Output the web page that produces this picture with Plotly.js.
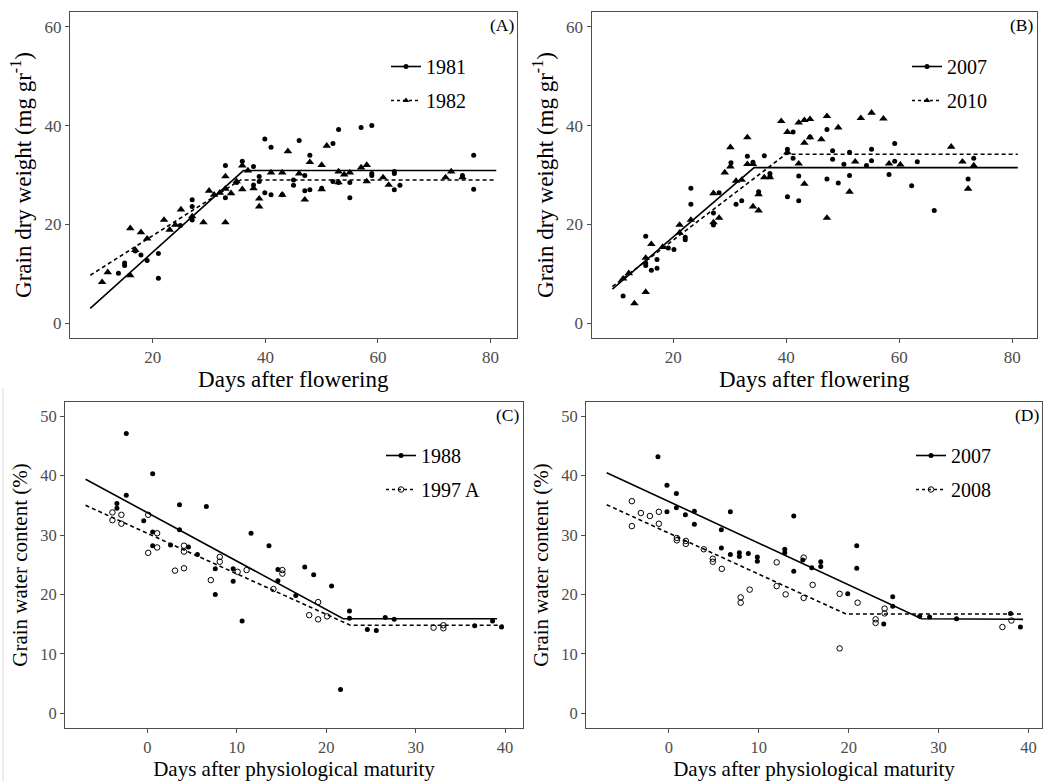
<!DOCTYPE html>
<html>
<head>
<meta charset="utf-8">
<script src="https://cdn.plot.ly/plotly-3.0.1.min.js"></script>
<style>html,body{margin:0;padding:0;background:#fff;}#chart{width:1045px;height:781px;}</style>
</head>
<body>
<div id="chart"></div>
<script>
// ---------------- Panel A: grain dry weight, 1981 / 1982 ----------------
const a1981X = [13.9,15.0,15.0,16.9,17.9,19.0,21.0,21.0,24.9,27.0,27.0,27.0,32.9,32.9,34.9,35.9,37.9,38.9,38.9,37.9,39.9,41.0,39.9,41.0,43.0,45.0,45.0,46.0,47.0,47.0,47.9,47.9,50.0,52.0,53.0,52.0,53.0,55.0,55.0,57.0,58.9,58.9,58.9,62.9,62.9,62.9,63.9,75.0,77.0,77.0];
const a1981Y = [10.1,12.2,11.7,14.6,13.8,12.7,14.1,9.1,19.8,25.0,23.6,20.9,31.9,25.4,28.5,32.8,31.7,29.7,28.7,28.0,37.3,35.6,26.4,26.0,26.0,29.0,27.9,37.0,26.8,29.9,34.0,27.0,27.3,36.4,39.2,28.7,28.5,28.5,25.4,39.6,40.0,30.3,29.9,30.7,30.3,27.0,27.9,29.9,34.0,27.1];
const a1982X = [11.0,12.0,16.0,16.0,16.9,17.9,19.0,22.0,23.0,24.0,25.0,27.0,29.0,30.0,30.9,31.9,32.9,32.9,32.9,33.9,34.9,35.9,35.9,36.9,37.9,38.9,38.9,41.0,43.0,43.0,44.0,46.0,47.0,47.9,50.0,50.0,50.9,53.0,53.0,54.0,55.0,57.0,58.0,58.0,60.9,61.9,72.0,73.0,75.0];
const a1982Y = [8.3,10.3,19.2,9.7,14.8,18.4,17.1,20.9,18.9,19.9,23.0,21.6,20.4,26.8,26.0,26.4,29.7,27.2,20.4,26.3,28.7,31.9,27.1,30.9,27.3,25.2,23.6,30.5,30.5,26.0,34.8,30.3,25.0,32.6,32.0,27.1,35.9,30.7,28.5,30.1,30.5,31.5,32.0,28.7,29.5,28.0,29.5,30.7,29.5];
const aFit1981X = [8.9, 36.1, 81.0];
const aFit1981Y = [3.0, 30.9, 30.9];
const aFit1982X = [8.9, 35.6, 81.0];
const aFit1982Y = [9.7, 29.0, 29.0];

// ---------------- Panel B: grain dry weight, 2007 / 2010 ----------------
const b2007X = [11.1,15.1,15.1,15.1,16.1,17.1,17.1,19.1,20.1,22.1,22.1,23.1,23.1,27.1,27.1,28.1,30.2,31.1,32.1,33.1,34.1,35.1,36.1,37.1,37.1,40.2,40.2,41.2,41.2,42.2,42.2,44.2,47.2,47.2,48.2,48.2,49.2,50.2,51.2,51.2,54.2,55.1,55.1,58.2,59.2,59.2,62.2,63.2,66.2,72.2,73.2];
const b2007Y = [5.5,17.6,12.2,11.7,10.7,11.1,12.9,15.2,14.9,17.4,16.9,27.3,24.1,22.3,19.9,26.4,32.5,24.1,24.8,33.8,32.6,26.6,33.9,30.3,29.7,35.2,25.6,38.7,33.4,29.8,24.8,37.7,39.2,29.2,34.9,33.2,28.4,32.2,34.6,29.9,31.9,35.2,32.9,30.1,36.4,32.8,27.8,32.7,22.8,29.2,33.4];
const b2010X = [11.1,12.1,13.1,15.1,15.1,16.1,18.1,21.1,21.1,23.1,27.1,27.1,28.1,29.1,30.1,30.1,31.1,32.1,33.1,33.1,34.1,34.1,35.1,35.1,36.1,37.1,39.1,40.2,40.2,42.2,42.2,43.2,43.2,43.2,44.2,44.2,46.2,47.2,47.2,49.2,51.2,52.2,53.2,55.1,57.2,58.2,60.2,69.2,71.2,72.2,73.2];
const b2010Y = [9.0,10.1,4.0,13.2,6.3,16.0,15.4,19.9,18.3,20.9,26.3,20.4,21.3,30.5,31.7,35.6,28.8,29.0,37.6,32.2,32.2,23.6,26.1,22.8,29.5,29.5,40.9,38.7,34.6,40.6,32.3,41.1,36.5,28.2,41.3,37.6,37.2,41.9,21.3,39.6,26.6,32.7,41.5,42.6,41.4,32.3,32.1,35.7,32.7,27.2,31.9];
const bFit2007X = [9.2, 34.3, 81.0];
const bFit2007Y = [6.9, 31.5, 31.5];
const bFit2010X = [9.2, 39.9, 81.0];
const bFit2010Y = [7.4, 34.2, 34.2];

// ---------------- Panel C: grain water content, 1988 / 1997 A ----------------
const c1988X = [-2.35,-3.4,-3.4,-2.35,-0.4,0.6,0.6,0.6,2.6,3.6,3.6,4.6,5.6,6.6,7.6,7.6,9.6,9.6,10.6,11.6,13.6,14.6,14.6,16.6,17.6,18.6,20.6,21.6,22.6,22.6,24.6,25.6,26.6,27.6,36.6,38.6,39.6];
const c1988Y = [47.1,35.3,34.5,36.7,32.4,40.3,30.5,28.2,28.3,35.1,30.9,28.0,26.7,34.8,24.3,20.0,24.3,22.2,15.5,30.3,28.2,24.2,22.3,19.8,24.6,23.3,21.4,4.0,17.2,16.0,14.1,13.9,16.1,15.8,14.7,15.5,14.5];
const c1997X = [-3.9,-3.9,-2.9,-2.9,0.1,0.1,1.1,1.1,3.1,4.1,4.1,4.1,7.1,8.1,8.1,10.1,11.1,14.1,15.1,15.1,18.1,19.1,19.1,20.1,32.0,33.1,33.1];
const c1997Y = [33.8,32.5,33.4,31.9,33.4,27.0,30.3,27.9,24.0,28.2,27.2,24.4,22.4,26.3,25.5,23.8,24.1,20.9,24.1,23.5,16.5,18.7,15.8,16.3,14.4,14.8,14.3];
const cFit1988X = [-6.9, 21.9, 39.1];
const cFit1988Y = [39.4, 15.9, 15.9];
const cFit1997X = [-6.9, 22.7, 39.8];
const cFit1997Y = [35.0, 14.8, 14.8];

// ---------------- Panel D: grain water content, 2007 / 2008 ----------------
const d2007X = [-1.2,-0.2,-0.2,0.85,0.85,1.85,2.85,2.85,5.85,5.85,6.85,6.85,7.85,7.85,8.85,9.85,9.85,12.9,12.9,13.9,13.9,14.9,15.9,16.9,16.9,19.9,20.9,20.9,23.9,24.9,24.9,27.9,29.0,32.0,38.0,39.1];
const d2007Y = [43.2,38.4,33.9,37.0,34.6,33.4,34.0,31.8,30.9,27.8,33.9,26.7,27.0,26.4,26.9,26.3,25.6,27.6,27.0,33.2,23.9,25.8,24.5,25.5,24.7,20.1,28.2,24.4,15.0,19.6,18.0,16.3,16.2,15.9,16.8,14.5];
const d2008X = [-4.1,-4.1,-3.1,-2.1,-1.1,-1.1,0.9,0.9,1.9,1.9,3.9,4.9,4.9,5.9,8.0,8.0,9.0,12.0,12.0,13.0,15.0,15.0,16.0,19.0,19.0,21.0,23.0,23.0,24.0,24.0,37.1,38.1];
const d2008Y = [35.7,31.5,33.7,33.2,33.9,31.9,29.5,29.1,29.0,28.5,27.6,26.0,25.5,24.3,19.5,18.6,20.8,25.4,21.4,20.0,26.2,19.4,21.6,20.1,10.9,18.6,15.8,15.2,17.6,16.8,14.5,15.6];
const dFit2007X = [-6.9, 28.1, 39.4];
const dFit2007Y = [40.5, 15.9, 15.8];
const dFit2008X = [-6.9, 19.7, 39.4];
const dFit2008Y = [35.1, 16.7, 16.7];

// ---------------- Labels ----------------
const panelLabels = ['(A)', '(B)', '(C)', '(D)'];
const legendNames = [['1981', '1982'], ['2007', '2010'], ['1988', '1997 A'], ['2007', '2008']];
const xTitles = ['Days after flowering', 'Days after flowering', 'Days after physiological maturity', 'Days after physiological maturity'];
const yTitles = ['Grain dry weight (mg gr<sup>-1</sup>)', 'Grain dry weight (mg gr<sup>-1</sup>)', 'Grain water content (%)', 'Grain water content (%)'];
const topTicks = [0, 20, 40, 60];
const topXTicks = [20, 40, 60, 80];
const botTicks = [0, 10, 20, 30, 40, 50];
const botXTicks = [0, 10, 20, 30, 40];

// ---------------- Build ----------------
const FONT = 'Liberation Serif, Times New Roman, serif';
const W = 1045, H = 781;
const px = v => v / W;
const py = v => 1 - v / H;

const SOLID = {color: 'black', width: 1.6};
const DASH = {color: 'black', width: 1.6, dash: '4px,3px'};
const FILLED = {symbol: 'circle', size: 5, color: 'black'};
const TRI = {symbol: 'triangle-up', size: 7.5, color: 'black'};
const OPEN = {symbol: 'circle-open', size: 5.5, color: 'black', line: {width: 1, color: 'black'}};

const panels = [
  {xs: [a1981X, a1982X], ys: [a1981Y, a1982Y], fx: [aFit1981X, aFit1982X], fy: [aFit1981Y, aFit1982Y], mk: [FILLED, TRI]},
  {xs: [b2007X, b2010X], ys: [b2007Y, b2010Y], fx: [bFit2007X, bFit2010X], fy: [bFit2007Y, bFit2010Y], mk: [FILLED, TRI]},
  {xs: [c1988X, c1997X], ys: [c1988Y, c1997Y], fx: [cFit1988X, cFit1997X], fy: [cFit1988Y, cFit1997Y], mk: [FILLED, OPEN]},
  {xs: [d2007X, d2008X], ys: [d2007Y, d2008Y], fx: [dFit2007X, dFit2008X], fy: [dFit2007Y, dFit2008Y], mk: [FILLED, OPEN]}
];

const legMk = [
  [{symbol: 'circle', size: 5, color: 'black'}, {symbol: 'triangle-up', size: 6, color: 'black'}],
  [{symbol: 'circle', size: 5, color: 'black'}, {symbol: 'triangle-up', size: 6, color: 'black'}],
  [{symbol: 'circle', size: 5, color: 'black'}, {symbol: 'circle-open', size: 5.5, color: 'black', line: {width: 1, color: 'black'}}],
  [{symbol: 'circle', size: 5, color: 'black'}, {symbol: 'circle-open', size: 5.5, color: 'black', line: {width: 1, color: 'black'}}]
];

const traces = [];
panels.forEach((p, i) => {
  const xa = i === 0 ? 'x' : 'x' + (i + 1);
  const ya = i === 0 ? 'y' : 'y' + (i + 1);
  const lg = i === 0 ? 'legend' : 'legend' + (i + 1);
  [0, 1].forEach(k => {
    traces.push({x: p.fx[k], y: p.fy[k], xaxis: xa, yaxis: ya, mode: 'lines',
      line: k === 0 ? SOLID : DASH, showlegend: false, hoverinfo: 'skip'});
    traces.push({x: p.xs[k], y: p.ys[k], xaxis: xa, yaxis: ya, mode: 'markers',
      marker: p.mk[k], showlegend: false});
  });
  [0, 1].forEach(k => {
    traces.push({x: [null], y: [null], xaxis: xa, yaxis: ya, mode: 'lines+markers',
      name: legendNames[i][k], legend: lg, legendgroup: 'g' + i + k,
      line: k === 0 ? {color: 'black', width: 1.6} : {color: 'black', width: 1.6, dash: '3px,3px'},
      marker: legMk[i][k], showlegend: true});
  });
});

// Domains in page pixels
const dom = [
  {x: [70, 516.5], y: [12, 338], xr: [5.3, 84.6], yr: [-3, 63], xt: topXTicks, yt: topTicks, tf: 17, af: 23},
  {x: [591.5, 1037], y: [12, 338], xr: [5.5, 84.4], yr: [-3, 63], xt: topXTicks, yt: topTicks, tf: 17, af: 23},
  {x: [65, 523], y: [402, 728], xr: [-9.2, 42.0], yr: [-2.5, 52.4], xt: botXTicks, yt: botTicks, tf: 16.5, af: 21},
  {x: [586, 1042], y: [402, 728], xr: [-9.2, 41.5], yr: [-2.5, 52.4], xt: botXTicks, yt: botTicks, tf: 16.5, af: 21}
];

const layout = {
  width: W, height: H,
  margin: {l: 0, r: 0, t: 0, b: 0},
  paper_bgcolor: 'white', plot_bgcolor: 'white',
  font: {family: FONT, color: 'black'},
  showlegend: true,
  annotations: [],
  shapes: [{type: 'line', xref: 'paper', yref: 'paper', x0: px(3), x1: px(3), y0: py(388), y1: 0,
    line: {color: '#d9d9d9', width: 1}}]
};

const legPos = [[386, 47], [907, 47], [381, 436], [911, 436]];

dom.forEach((d, i) => {
  const xk = i === 0 ? 'xaxis' : 'xaxis' + (i + 1);
  const yk = i === 0 ? 'yaxis' : 'yaxis' + (i + 1);
  const yaName = i === 0 ? 'y' : 'y' + (i + 1);
  const xaName = i === 0 ? 'x' : 'x' + (i + 1);
  layout[xk] = {
    domain: [px(d.x[0]), px(d.x[1])], anchor: yaName, range: d.xr,
    tickmode: 'array', tickvals: d.xt, ticktext: d.xt.map(String),
    showgrid: false, zeroline: false, showline: true, mirror: true,
    linecolor: '#4d4d4d', linewidth: 1, ticks: 'outside', ticklen: 4, tickcolor: '#4d4d4d',
    tickfont: {family: FONT, size: d.tf, color: '#4d4d4d'},
    title: {text: xTitles[i], font: {family: FONT, size: d.af, color: 'black'}, standoff: 4},
    automargin: false, fixedrange: true
  };
  layout[yk] = {
    domain: [py(d.y[1]), py(d.y[0])], anchor: xaName, range: d.yr,
    tickmode: 'array', tickvals: d.yt, ticktext: d.yt.map(String),
    showgrid: false, zeroline: false, showline: true, mirror: true,
    linecolor: '#4d4d4d', linewidth: 1, ticks: 'outside', ticklen: 4, tickcolor: '#4d4d4d',
    tickfont: {family: FONT, size: d.tf, color: '#4d4d4d'},
    title: {text: yTitles[i], font: {family: FONT, size: d.af, color: 'black'}, standoff: 6},
    automargin: false, fixedrange: true
  };
  const lk = i === 0 ? 'legend' : 'legend' + (i + 1);
  layout[lk] = {
    x: px(legPos[i][0]), y: py(legPos[i][1]), xanchor: 'left', yanchor: 'top',
    bgcolor: 'rgba(0,0,0,0)', borderwidth: 0,
    font: {family: FONT, size: 20, color: 'black'},
    tracegroupgap: 5, itemwidth: 30
  };
  layout.annotations.push({
    text: panelLabels[i], xref: 'paper', yref: 'paper',
    x: px(d.x[1] - 1), y: py(d.y[0] + 1), xanchor: 'right', yanchor: 'top',
    showarrow: false, font: {family: FONT, size: 17.5, color: 'black'}
  });
});

Plotly.newPlot('chart', traces, layout, {displayModeBar: false, staticPlot: true});
</script>
</body>
</html>
